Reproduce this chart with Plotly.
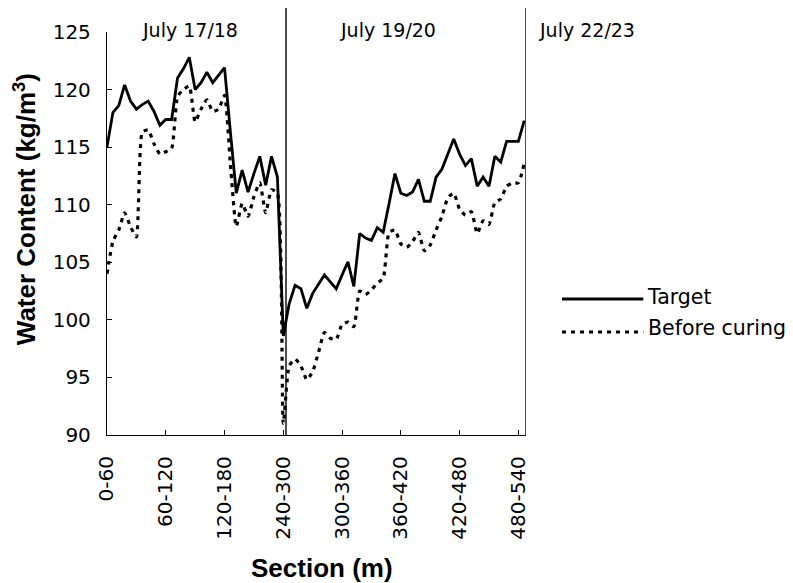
import plotly.graph_objects as go

# ---- data ----
tick_labels = ["0-60", "60-120", "120-180", "240-300", "300-360", "360-420", "420-480", "480-540"]

target = [
    115.0, 118.0, 118.6, 120.4, 119.0, 118.3, 118.7, 119.0, 118.1, 116.9,
    117.4, 117.4, 121.0, 121.8, 122.8, 120.0, 120.6, 121.5, 120.6, 121.2,
    121.9, 116.3, 111.0, 113.0, 111.1, 112.7, 114.2, 111.7, 114.2, 112.4,
    98.6, 101.4, 103.0, 102.7, 101.0, 102.3, 103.1, 103.9, 103.3, 102.7,
    103.9, 105.05, 102.9, 107.5, 107.1, 106.9, 108.0, 107.6, 110.1, 112.7,
    111.0, 110.8, 111.1, 112.2, 110.3, 110.3, 112.4, 113.1, 114.4, 115.7,
    114.4, 113.4, 114.0, 111.6, 112.4, 111.6, 114.2, 113.7, 115.5, 115.5,
    115.5, 117.3,
]

before_curing = [
    104.0, 106.8, 107.8, 109.3, 108.1, 107.2, 116.3, 116.5, 115.3, 114.4,
    114.6, 114.9, 119.4, 120.0, 120.3, 117.2, 118.3, 119.1, 118.1, 118.3,
    119.5, 113.5, 108.1, 110.1, 109.0, 110.7, 111.9, 109.3, 111.3, 111.0,
    91.0, 96.0, 96.6, 96.0, 94.8, 95.5, 97.2, 98.9, 98.4, 98.3,
    99.6, 99.8, 99.4, 102.5, 102.2, 102.6, 103.2, 103.6, 107.6, 107.8,
    106.6, 106.3, 106.8, 107.6, 106.0, 106.5, 107.8, 109.0, 110.6, 111.0,
    109.6, 109.1, 109.4, 107.5, 108.6, 108.3, 110.2, 110.5, 111.6, 111.9,
    111.9, 113.6,
]

period_labels = ["July 17/18", "July 19/20", "July 22/23"]

x = list(range(len(target)))
tick_vals = list(range(0, len(target), 10))

fig = go.Figure()
fig.add_trace(go.Scatter(
    x=x, y=target, mode="lines", name="Target",
    line=dict(color="black", width=2.8), showlegend=False,
))
fig.add_trace(go.Scatter(
    x=x, y=before_curing, mode="lines", name="Before curing",
    line=dict(color="black", width=3.2, dash="4px,5px", shape="spline", smoothing=0.5),
    showlegend=False,
))

tick_font = dict(family="DejaVu Sans", size=20, color="black")

fig.update_layout(
    width=793, height=583,
    margin=dict(l=99, r=275, t=24, b=156),
    paper_bgcolor="white", plot_bgcolor="white",
    xaxis=dict(
        range=[0, 71.3], tickmode="array", tickvals=tick_vals, ticktext=tick_labels,
        tickangle=-90, ticks="inside", ticklen=5, tickcolor="black", tickwidth=1.2,
        showline=True, linecolor="black", linewidth=1.3, showgrid=False, zeroline=False,
        tickfont=tick_font, ticklabelstandoff=12,
    ),
    yaxis=dict(
        range=[90, 125], dtick=5, ticks="inside", ticklen=5, tickcolor="black", tickwidth=1.2,
        showline=True, linecolor="black", linewidth=1.3, showgrid=False, zeroline=False,
        tickfont=tick_font, ticklabelstandoff=11,
    ),
    font=dict(family="DejaVu Sans", color="black"),
)

# separators between the pour days
for xs in (30.46, 71.3):
    fig.add_shape(type="line", xref="x", yref="paper", x0=xs, x1=xs, y0=0, y1=1.08,
                  line=dict(color="black", width=1.4))

# period labels
for txt, xp, anchor in ((period_labels[0], 0.198, "center"),
                        (period_labels[1], 0.67, "center"),
                        (period_labels[2], 1.026, "left")):
    fig.add_annotation(text=txt, xref="paper", yref="paper", x=xp, y=1.005,
                       xanchor=anchor, yanchor="middle", showarrow=False,
                       font=dict(family="DejaVu Sans", size=19, color="black"))

# axis titles
fig.add_annotation(text="Water Content (kg/m<sup>3</sup>)", xref="paper", yref="paper",
                   x=-0.196, y=0.56, textangle=-90, showarrow=False,
                   xanchor="center", yanchor="middle",
                   font=dict(family="Liberation Sans", size=26, color="black", weight="bold"))
fig.add_annotation(text="Section (m)", xref="paper", yref="paper",
                   x=0.513, y=-0.33, showarrow=False, xanchor="center", yanchor="middle",
                   font=dict(family="Liberation Sans", size=26, color="black", weight="bold"))

# legend (drawn manually to match the long line samples)
fig.add_shape(type="line", xref="paper", yref="paper", x0=1.086, x1=1.28, y0=0.3375, y1=0.3375,
              line=dict(color="black", width=2.8))
fig.add_annotation(text="Target", xref="paper", yref="paper", x=1.284, y=0.342,
                   xanchor="left", yanchor="middle", showarrow=False,
                   font=dict(family="DejaVu Sans", size=20.5, color="black"))
fig.add_shape(type="line", xref="paper", yref="paper", x0=1.086, x1=1.28, y0=0.2556, y1=0.2556,
              line=dict(color="black", width=3.2, dash="4px,5px"))
fig.add_annotation(text="Before curing", xref="paper", yref="paper", x=1.287, y=0.2655,
                   xanchor="left", yanchor="middle", showarrow=False,
                   font=dict(family="DejaVu Sans", size=20.5, color="black"))

fig.write_html("out.html")
